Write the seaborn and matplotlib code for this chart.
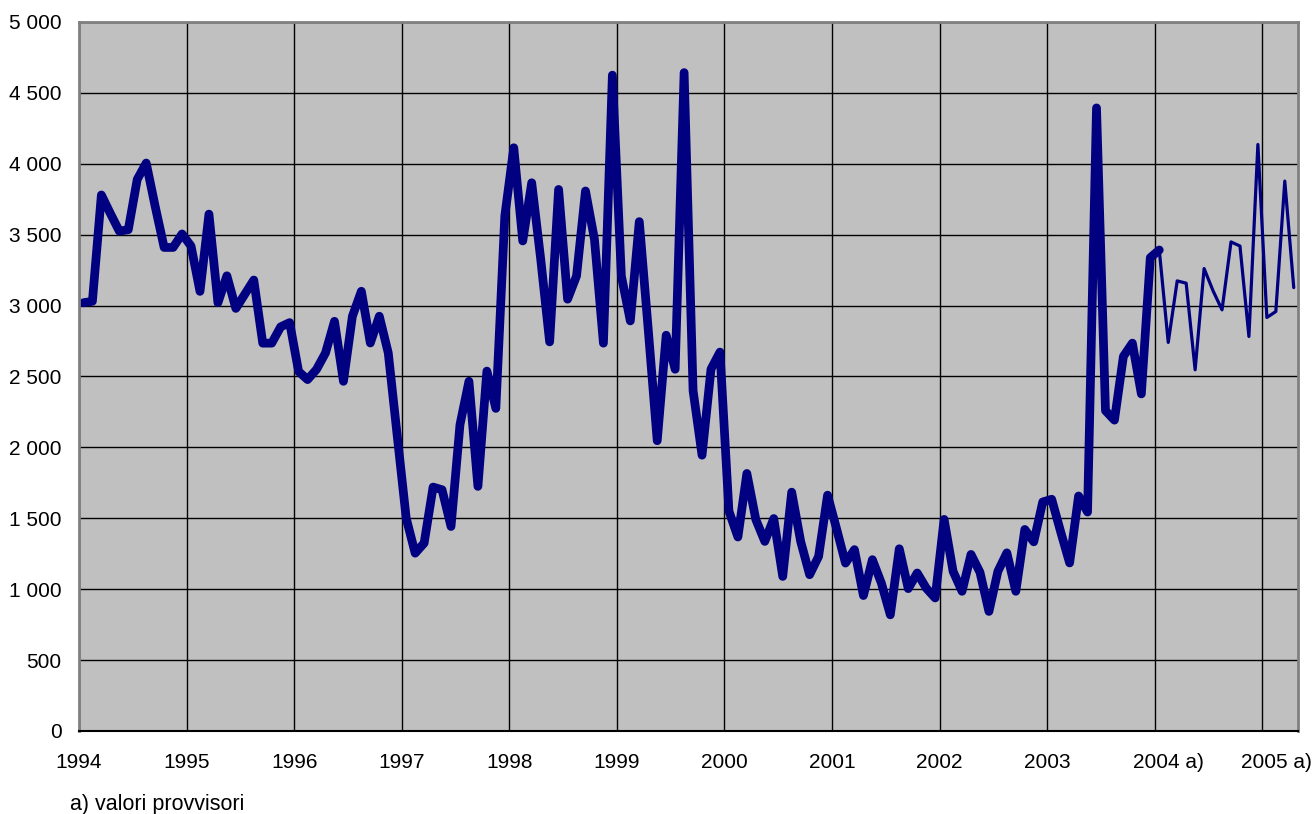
import numpy as np
import pandas as pd
import matplotlib
matplotlib.use('Agg')
import matplotlib.pyplot as plt
import matplotlib.transforms as mtransforms
import seaborn as sns

# monthly values, Jan 1994 - Jan 2004 (definitive)
definitive = [
    3020, 3030, 3780, 3650, 3525, 3535, 3890, 4005, 3700, 3410, 3410, 3505,  # 1994
    3420, 3100, 3645, 3020, 3210, 2980, 3080, 3180, 2735, 2735, 2850, 2880,  # 1995
    2535, 2478, 2550, 2666, 2889, 2466, 2925, 3101, 2736, 2925, 2666, 2082,  # 1996
    1501, 1254, 1325, 1720, 1701, 1442, 2160, 2466, 1725, 2538, 2275, 3632,  # 1997
    4113, 3456, 3866, 3330, 2744, 3819, 3045, 3209, 3808, 3467, 2735, 4625,  # 1998
    3209, 2892, 3592, 2830, 2047, 2791, 2551, 4643, 2400, 1945, 2552, 2672,  # 1999
    1550, 1368, 1816, 1491, 1337, 1498, 1090, 1684, 1337, 1102, 1231, 1663,  # 2000
    1427, 1184, 1279, 955, 1208, 1043, 819, 1285, 1004, 1114, 1008, 938,     # 2001
    1492, 1126, 985, 1245, 1119, 843, 1126, 1256, 985, 1421, 1334, 1615,     # 2002
    1634, 1405, 1185, 1657, 1544, 4394, 2259, 2192, 2642, 2735, 2377, 3338,  # 2003
    3392,                                                                    # 2004 Jan
]

# provisional values, Jan 2004 - Apr 2005
provisional = [3392, 2740, 3174, 3158, 2547, 3261, 3104, 2970, 3449, 3420,
               2782, 4136, 2916, 2958, 3878, 3127]

years = ['1994', '1995', '1996', '1997', '1998', '1999', '2000', '2001',
         '2002', '2003', '2004 a)', '2005 a)']

n_def = len(definitive)
n_total = n_def - 1 + len(provisional)

# months as categories, points centred in each category slot
df_def = pd.DataFrame({'month': np.arange(n_def) + 0.5, 'value': definitive})
df_prov = pd.DataFrame({'month': np.arange(n_def - 1, n_total) + 0.5, 'value': provisional})

sns.set_style('whitegrid', {
    'axes.facecolor': '#C0C0C0',
    'grid.color': '#000000',
    'axes.edgecolor': '#808080',
})
plt.rcParams['font.family'] = ['Liberation Sans', 'DejaVu Sans']

fig = plt.figure(figsize=(13.16, 8.14), dpi=100)
ax = fig.add_axes([0.060, 0.102, 0.9265, 0.871])

sns.lineplot(data=df_def, x='month', y='value', ax=ax, color='#000080',
             linewidth=6.3, solid_joinstyle='round', solid_capstyle='round')
sns.lineplot(data=df_prov, x='month', y='value', ax=ax, color='#000080',
             linewidth=2.3)

ax.set_xlim(0, n_total)
ax.set_ylim(0, 5000)
ax.set_xticks(np.arange(0, n_total, 12))
ax.set_xticklabels(years)
ax.set_yticks(np.arange(0, 5001, 500))
ax.set_yticklabels([f'{v:,}'.replace(',', ' ') for v in range(0, 5001, 500)])

ax.grid(True, color='#000000', linewidth=1.0)
ax.tick_params(axis='both', labelsize=15, colors='#000000', length=4.5,
               width=1, direction='out')
ax.tick_params(axis='y', pad=8)
ax.tick_params(axis='x', pad=11.5)
ax.set_xlabel('')
ax.set_ylabel('')
for side in ['top', 'right', 'left']:
    ax.spines[side].set_color('#808080')
    ax.spines[side].set_linewidth(2)
ax.spines['bottom'].set_color('#000000')
ax.spines['bottom'].set_linewidth(1.5)

# shift the "a)" labels so the year sits on the tick
offset = mtransforms.ScaledTranslation(0.14, 0, fig.dpi_scale_trans)
for lab in ax.get_xticklabels():
    if 'a)' in lab.get_text():
        lab.set_transform(lab.get_transform() + offset)

fig.text(0.053, 0.005, 'a) valori provvisori', fontsize=15.5, color='#000000',
         va='baseline')

fig.savefig('out.png', dpi=100)
